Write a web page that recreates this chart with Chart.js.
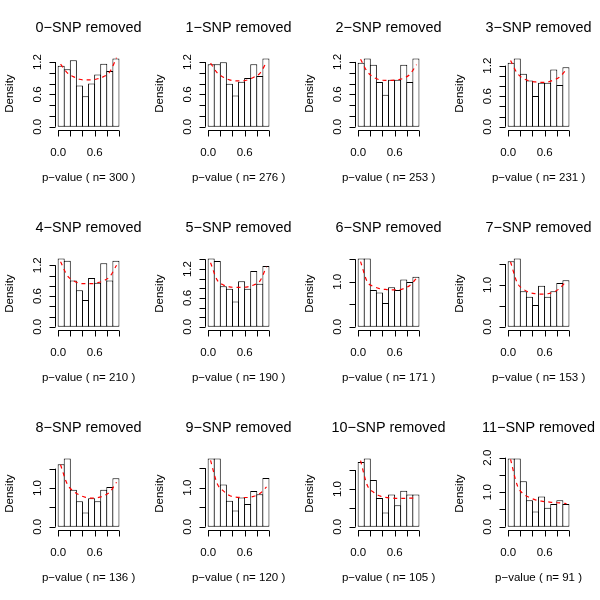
<!DOCTYPE html>
<html>
<head>
<meta charset="utf-8">
<script src="https://cdn.jsdelivr.net/npm/chart.js@4"></script>
<style>
  body { margin: 0; background: #fff; }
  #grid { position: relative; width: 600px; height: 600px; }
  .cell { position: absolute; width: 150px; height: 200px; }
</style>
</head>
<body>
<div id="grid"></div>
<script>
// bin counts per panel (bin width 0.1)
var panelN = [300, 276, 253, 231, 210, 190, 171, 153, 136, 120, 105, 91];
var counts0 = [34, 32, 37, 23, 17, 24, 29, 35, 31, 38];
var counts1 = [32, 32, 33, 22, 16, 23, 25, 32, 26, 35];
var counts2 = [30, 32, 29, 21, 15, 22, 22, 29, 21, 32];
var counts3 = [29, 31, 24, 21, 14, 20, 20, 26, 19, 27];
var counts4 = [28, 27, 19, 15, 11, 20, 18, 26, 19, 27];
var counts5 = [27, 26, 16, 15, 10, 18, 15, 22, 17, 24];
var counts6 = [26, 26, 14, 13, 9, 15, 14, 18, 17, 19];
var counts7 = [24, 25, 13, 11, 8, 15, 11, 13, 16, 17];
var counts8 = [22, 24, 13, 9, 5, 10, 9, 13, 14, 17];
var counts9 = [21, 21, 13, 8, 5, 9, 7, 11, 10, 15];
var counts10 = [18, 19, 13, 8, 4, 9, 6, 10, 9, 9];
var counts11 = [18, 18, 12, 7, 4, 8, 5, 6, 7, 6];

var binMids = [0.05, 0.15, 0.25, 0.35, 0.45, 0.55, 0.65, 0.75, 0.85, 0.95];

// red dashed fitted curve
var curveX = [0.04, 0.15, 0.25, 0.35, 0.45, 0.55, 0.65, 0.75, 0.85, 0.96];
var curve0 = [1.16, 1.0, 0.93, 0.88, 0.87, 0.87, 0.89, 0.93, 1.02, 1.28];
var curve1 = [1.18, 1.0, 0.92, 0.87, 0.85, 0.85, 0.87, 0.92, 0.99, 1.2];
var curve2 = [1.25, 1.02, 0.92, 0.87, 0.86, 0.86, 0.87, 0.9, 0.97, 1.15];
var curve3 = [1.3, 1.05, 0.95, 0.9, 0.88, 0.87, 0.88, 0.92, 0.98, 1.13];
var curve4 = [1.27, 1.0, 0.9, 0.85, 0.84, 0.84, 0.86, 0.9, 0.98, 1.2];
var curve5 = [1.33, 0.97, 0.87, 0.83, 0.82, 0.82, 0.83, 0.87, 0.95, 1.25];
var curve6 = [1.45, 1.0, 0.9, 0.85, 0.83, 0.82, 0.82, 0.85, 0.92, 1.08];
var curve7 = [1.55, 1.05, 0.9, 0.82, 0.79, 0.78, 0.79, 0.83, 0.92, 1.1];
var curve8 = [1.6, 1.1, 0.92, 0.82, 0.76, 0.74, 0.75, 0.8, 0.9, 1.15];
var curve9 = [1.7, 1.1, 0.92, 0.8, 0.76, 0.75, 0.75, 0.78, 0.85, 1.02];
var curve10 = [1.75, 1.1, 0.92, 0.82, 0.78, 0.76, 0.75, 0.75, 0.76, 0.76];
var curve11 = [1.95, 1.2, 0.95, 0.85, 0.78, 0.74, 0.72, 0.7, 0.69, 0.67];

// axis ticks
var xTicks = [0, 0.2, 0.4, 0.6, 0.8, 1.0];
var xTickLabels = ['0.0', '', '', '0.6', '', ''];
var yTicksA = [0, 0.2, 0.4, 0.6, 0.8, 1.0, 1.2];
var yLabelsA = ['0.0', '', '', '0.6', '', '', '1.2'];
var yTicksB = [0, 0.2, 0.4, 0.6, 0.8, 1.0, 1.2, 1.4];
var yLabelsB = ['0.0', '', '', '0.6', '', '', '1.2', ''];
var yTicksC = [0, 0.5, 1.0, 1.5];
var yLabelsC = ['0.0', '', '1.0', ''];
var yTicksD = [0, 0.5, 1.0, 1.5, 2.0];
var yLabelsD = ['0.0', '', '1.0', '', '2.0'];

var allCounts = [counts0, counts1, counts2, counts3, counts4, counts5, counts6, counts7, counts8, counts9, counts10, counts11];
var allCurves = [curve0, curve1, curve2, curve3, curve4, curve5, curve6, curve7, curve8, curve9, curve10, curve11];
var allYTicks = [yTicksA, yTicksA, yTicksA, yTicksA, yTicksA, yTicksB, yTicksC, yTicksC, yTicksC, yTicksC, yTicksC, yTicksD];
var allYLabels = [yLabelsA, yLabelsA, yLabelsA, yLabelsA, yLabelsA, yLabelsB, yLabelsC, yLabelsC, yLabelsC, yLabelsC, yLabelsC, yLabelsD];

var FONT = '"Liberation Sans", Arial, Helvetica, sans-serif';

// R-style axes and labels
var rAxes = {
  id: 'rAxes',
  afterDatasetsDraw: function(chart, args, opts) {
    var ctx = chart.ctx, xs = chart.scales.x, ys = chart.scales.y, a = chart.chartArea;
    ctx.save();
    ctx.strokeStyle = '#000';
    ctx.fillStyle = '#000';
    ctx.lineWidth = 1;

    // x axis
    var yb = Math.round(a.bottom) + 0.5;
    ctx.beginPath();
    ctx.moveTo(xs.getPixelForValue(xTicks[0]), yb);
    ctx.lineTo(xs.getPixelForValue(xTicks[xTicks.length - 1]), yb);
    xTicks.forEach(function(t) {
      var px = Math.round(xs.getPixelForValue(t)) + 0.5;
      ctx.moveTo(px, yb);
      ctx.lineTo(px, yb + 6);
    });
    ctx.stroke();
    ctx.font = '11.5px ' + FONT;
    ctx.textAlign = 'center';
    ctx.textBaseline = 'middle';
    xTicks.forEach(function(t, i) {
      if (xTickLabels[i]) ctx.fillText(xTickLabels[i], xs.getPixelForValue(t), a.bottom + 23.5);
    });

    // y axis
    var xl = Math.round(a.left) - 0.5;
    var yt = opts.yTicks;
    ctx.beginPath();
    ctx.moveTo(xl, ys.getPixelForValue(yt[0]));
    ctx.lineTo(xl, ys.getPixelForValue(yt[yt.length - 1]));
    yt.forEach(function(t) {
      var py = Math.round(ys.getPixelForValue(t)) + 0.5;
      ctx.moveTo(xl, py);
      ctx.lineTo(xl - 6, py);
    });
    ctx.stroke();
    yt.forEach(function(t, i) {
      if (!opts.yLabels[i]) return;
      ctx.save();
      ctx.translate(xl - 18, ys.getPixelForValue(t));
      ctx.rotate(-Math.PI / 2);
      ctx.fillText(opts.yLabels[i], 0, 0);
      ctx.restore();
    });

    // titles
    var cx = (a.left + a.right) / 2;
    ctx.fillText(opts.xTitle, cx, 178);
    ctx.save();
    ctx.translate(9.5, (a.top + a.bottom) / 2 + 1);
    ctx.rotate(-Math.PI / 2);
    ctx.fillText('Density', 0, 0);
    ctx.restore();
    ctx.font = '14.4px ' + FONT;
    ctx.fillText(opts.title, cx, 28);
    ctx.restore();
  }
};

var grid = document.getElementById('grid');

allCounts.forEach(function(counts, p) {
  var n = panelN[p];
  var dens = counts.map(function(c) { return c / (n * 0.1); });
  var ymax = Math.max.apply(null, dens);

  var cell = document.createElement('div');
  cell.className = 'cell';
  cell.style.left = (p % 4) * 150 + 'px';
  cell.style.top = Math.floor(p / 4) * 200 + 'px';
  var canvas = document.createElement('canvas');
  canvas.width = 150;
  canvas.height = 200;
  cell.appendChild(canvas);
  grid.appendChild(cell);

  new Chart(canvas.getContext('2d'), {
    type: 'bar',
    data: {
      datasets: [{
        type: 'bar',
        order: 1,
        data: binMids.map(function(x, i) { return { x: x, y: dens[i] }; }),
        backgroundColor: '#ffffff',
        borderColor: '#000000',
        borderSkipped: false,
        borderWidth: 1,
        // slight overlap so neighbouring bars share one edge line, like R's rect()
        barPercentage: 1.16,
        categoryPercentage: 1
      }, {
        type: 'line',
        order: 0,
        data: curveX.map(function(x, i) { return { x: x, y: allCurves[p][i] }; }),
        borderColor: '#ff0000',
        borderWidth: 1.2,
        borderDash: [4, 4],
        pointRadius: 0,
        fill: false,
        cubicInterpolationMode: 'monotone'
      }]
    },
    options: {
      responsive: false,
      animation: false,
      layout: { padding: { left: 55.7, right: 28.6, top: 55.7, bottom: 70.5 } },
      scales: {
        x: { type: 'linear', min: -0.04, max: 1.04, offset: false, display: false },
        y: { min: -0.04 * ymax, max: 1.04 * ymax, display: false }
      },
      plugins: {
        legend: { display: false },
        tooltip: { enabled: false },
        rAxes: {
          yTicks: allYTicks[p],
          yLabels: allYLabels[p],
          title: p + '\u2212SNP removed',
          xTitle: 'p\u2212value ( n= ' + n + ' )'
        }
      }
    },
    plugins: [rAxes]
  });
});
</script>
</body>
</html>
